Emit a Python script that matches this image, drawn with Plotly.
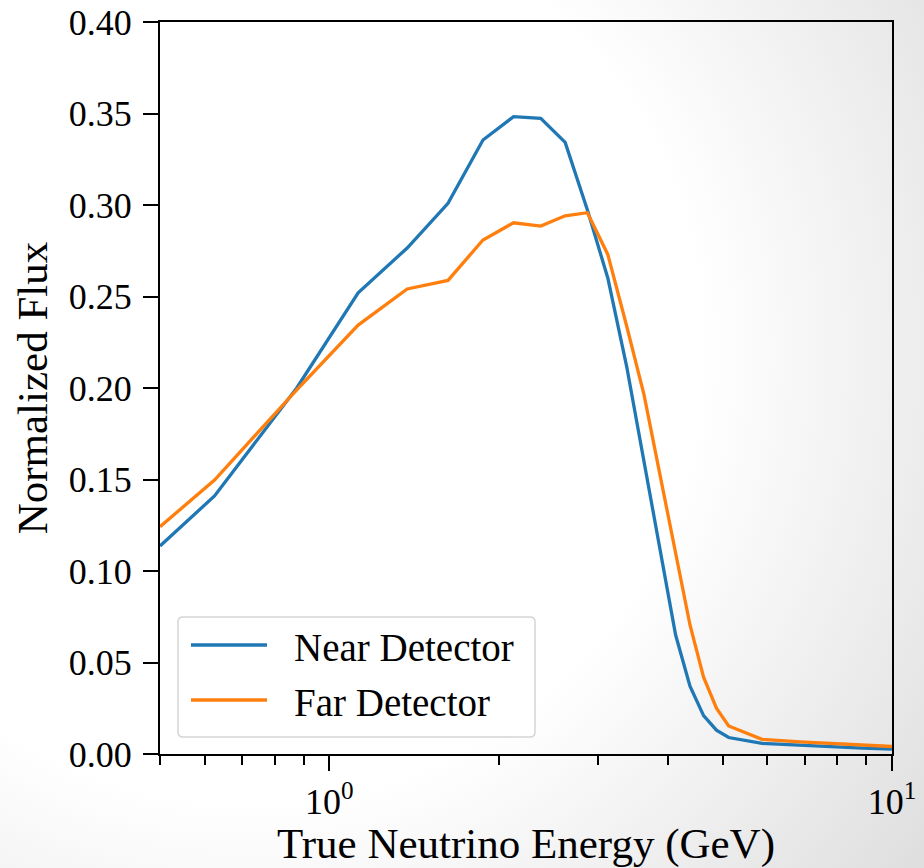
import base64
import numpy as np
import plotly.graph_objects as go

# ---- data ----
energy = [0.5, 0.625, 0.875, 1.125, 1.375, 1.625, 1.875, 2.125, 2.375, 2.625, 2.875,
          3.125, 3.375, 3.625, 3.875, 4.125, 4.375, 4.625, 4.875, 5.125, 5.875,
          6.875, 7.875, 8.875, 10.0]
near_flux = [0.1137, 0.141, 0.2000, 0.252, 0.2765, 0.3009, 0.3355, 0.3483, 0.3474, 0.3342, 0.2973,
             0.2601, 0.212, 0.159, 0.110, 0.065, 0.037, 0.021, 0.013, 0.009, 0.0058,
             0.0047, 0.0039, 0.0032, 0.0027]
far_flux = [0.1242, 0.1497, 0.1990, 0.2344, 0.2541, 0.2588, 0.2809, 0.2903, 0.2885, 0.2941, 0.2958,
            0.273, 0.234, 0.1962, 0.1516, 0.110, 0.0705, 0.042, 0.025, 0.0153, 0.008,
            0.0066, 0.0056, 0.0048, 0.0041]
series_names = ["Near Detector", "Far Detector"]
x_major_ticks = [1, 10]
x_major_text = ["10<sup>0</sup>", "10<sup>1</sup>"]
x_minor_ticks = [0.5, 0.6, 0.7, 0.8, 0.9, 2, 3, 4, 5, 6, 7, 8, 9]
y_ticks = [0, 0.05, 0.10, 0.15, 0.20, 0.25, 0.30, 0.35, 0.40]

BLUE = "#1f77b4"
ORANGE = "#ff7f0e"
FONT = "Liberation Serif"

W, H = 924, 868
ML, MR, MT, MB = 160, 32, 22, 114
PW, PH = W - ML - MR, H - MT - MB

fig = go.Figure()
fig.add_trace(go.Scatter(x=energy, y=near_flux, mode="lines", name=series_names[0],
                         line=dict(color=BLUE, width=3.3), showlegend=False))
fig.add_trace(go.Scatter(x=energy, y=far_flux, mode="lines", name=series_names[1],
                         line=dict(color=ORANGE, width=3.3), showlegend=False))

# background gradient image covering the whole page
svg = (
    '<svg xmlns="http://www.w3.org/2000/svg" width="924" height="868" viewBox="0 0 924 868">'
    '<defs><radialGradient id="g" cx="250" cy="350" r="900" gradientUnits="userSpaceOnUse">'
    '<stop offset="0.5" stop-color="#ffffff"/>'
    '<stop offset="1" stop-color="#dadada"/></radialGradient></defs>'
    '<rect x="0" y="0" width="924" height="868" fill="url(#g)"/></svg>'
)
src = "data:image/svg+xml;base64," + base64.b64encode(svg.encode()).decode()
fig.add_layout_image(dict(source=src, xref="paper", yref="paper",
                          x=-ML / PW, y=1 + MT / PH, sizex=W / PW, sizey=H / PH,
                          xanchor="left", yanchor="top", sizing="stretch", layer="below"))


def px2x(px):
    return (px - ML) / PW


def py2y(py):
    return (MT + PH - py) / PH


# manual legend (rounded box)
x0, x1 = px2x(178), px2x(535)
y0, y1 = py2y(737), py2y(617)
rx, ry = 5 / PW, 5 / PH
path = (f"M {x0+rx},{y0} L {x1-rx},{y0} Q {x1},{y0} {x1},{y0+ry} "
        f"L {x1},{y1-ry} Q {x1},{y1} {x1-rx},{y1} L {x0+rx},{y1} Q {x0},{y1} {x0},{y1-ry} "
        f"L {x0},{y0+ry} Q {x0},{y0} {x0+rx},{y0} Z")
fig.add_shape(type="path", path=path, xref="paper", yref="paper",
              fillcolor="rgba(255,255,255,0.8)", line=dict(color="#d5d5d5", width=1.5), layer="above")
for name, color, py in [(series_names[0], BLUE, 645), (series_names[1], ORANGE, 700)]:
    fig.add_shape(type="line", xref="paper", yref="paper", x0=px2x(191), x1=px2x(267),
                  y0=py2y(py), y1=py2y(py), line=dict(color=color, width=3.3), layer="above")
    fig.add_annotation(text=name, xref="paper", yref="paper", x=px2x(292), y=py2y(py + 2),
                       xanchor="left", yanchor="middle", showarrow=False,
                       font=dict(family=FONT, size=39, color="black"))

fig.update_layout(
    width=W, height=H,
    margin=dict(l=ML, r=MR, t=MT, b=MB, pad=0),
    paper_bgcolor="rgba(0,0,0,0)", plot_bgcolor="rgba(0,0,0,0)",
    font=dict(family=FONT, size=36, color="black"),
    xaxis=dict(type="log", range=[np.log10(0.5), 1], tickvals=x_major_ticks, ticktext=x_major_text,
               ticks="outside", ticklen=15, tickwidth=2, tickcolor="black",
               showline=True, linecolor="black", linewidth=2, mirror=True, showgrid=False,
               zeroline=False, tickfont=dict(size=36), automargin=False,
               minor=dict(tickvals=x_minor_ticks, ticks="outside", ticklen=9, tickwidth=2,
                          tickcolor="black", showgrid=False),
               title=dict(text="True Neutrino Energy (GeV)", font=dict(size=43), standoff=16)),
    yaxis=dict(range=[0, 0.40], tickvals=y_ticks,
               tickformat=".2f", ticks="outside", ticklen=15, tickwidth=2, tickcolor="black",
               showline=True, linecolor="black", linewidth=2, mirror=True, showgrid=False,
               zeroline=False, tickfont=dict(size=36), ticklabelstandoff=4, automargin=False,
               title=dict(text="Normalized Flux", font=dict(size=43), standoff=8)),
)

fig.write_html("out.html")
